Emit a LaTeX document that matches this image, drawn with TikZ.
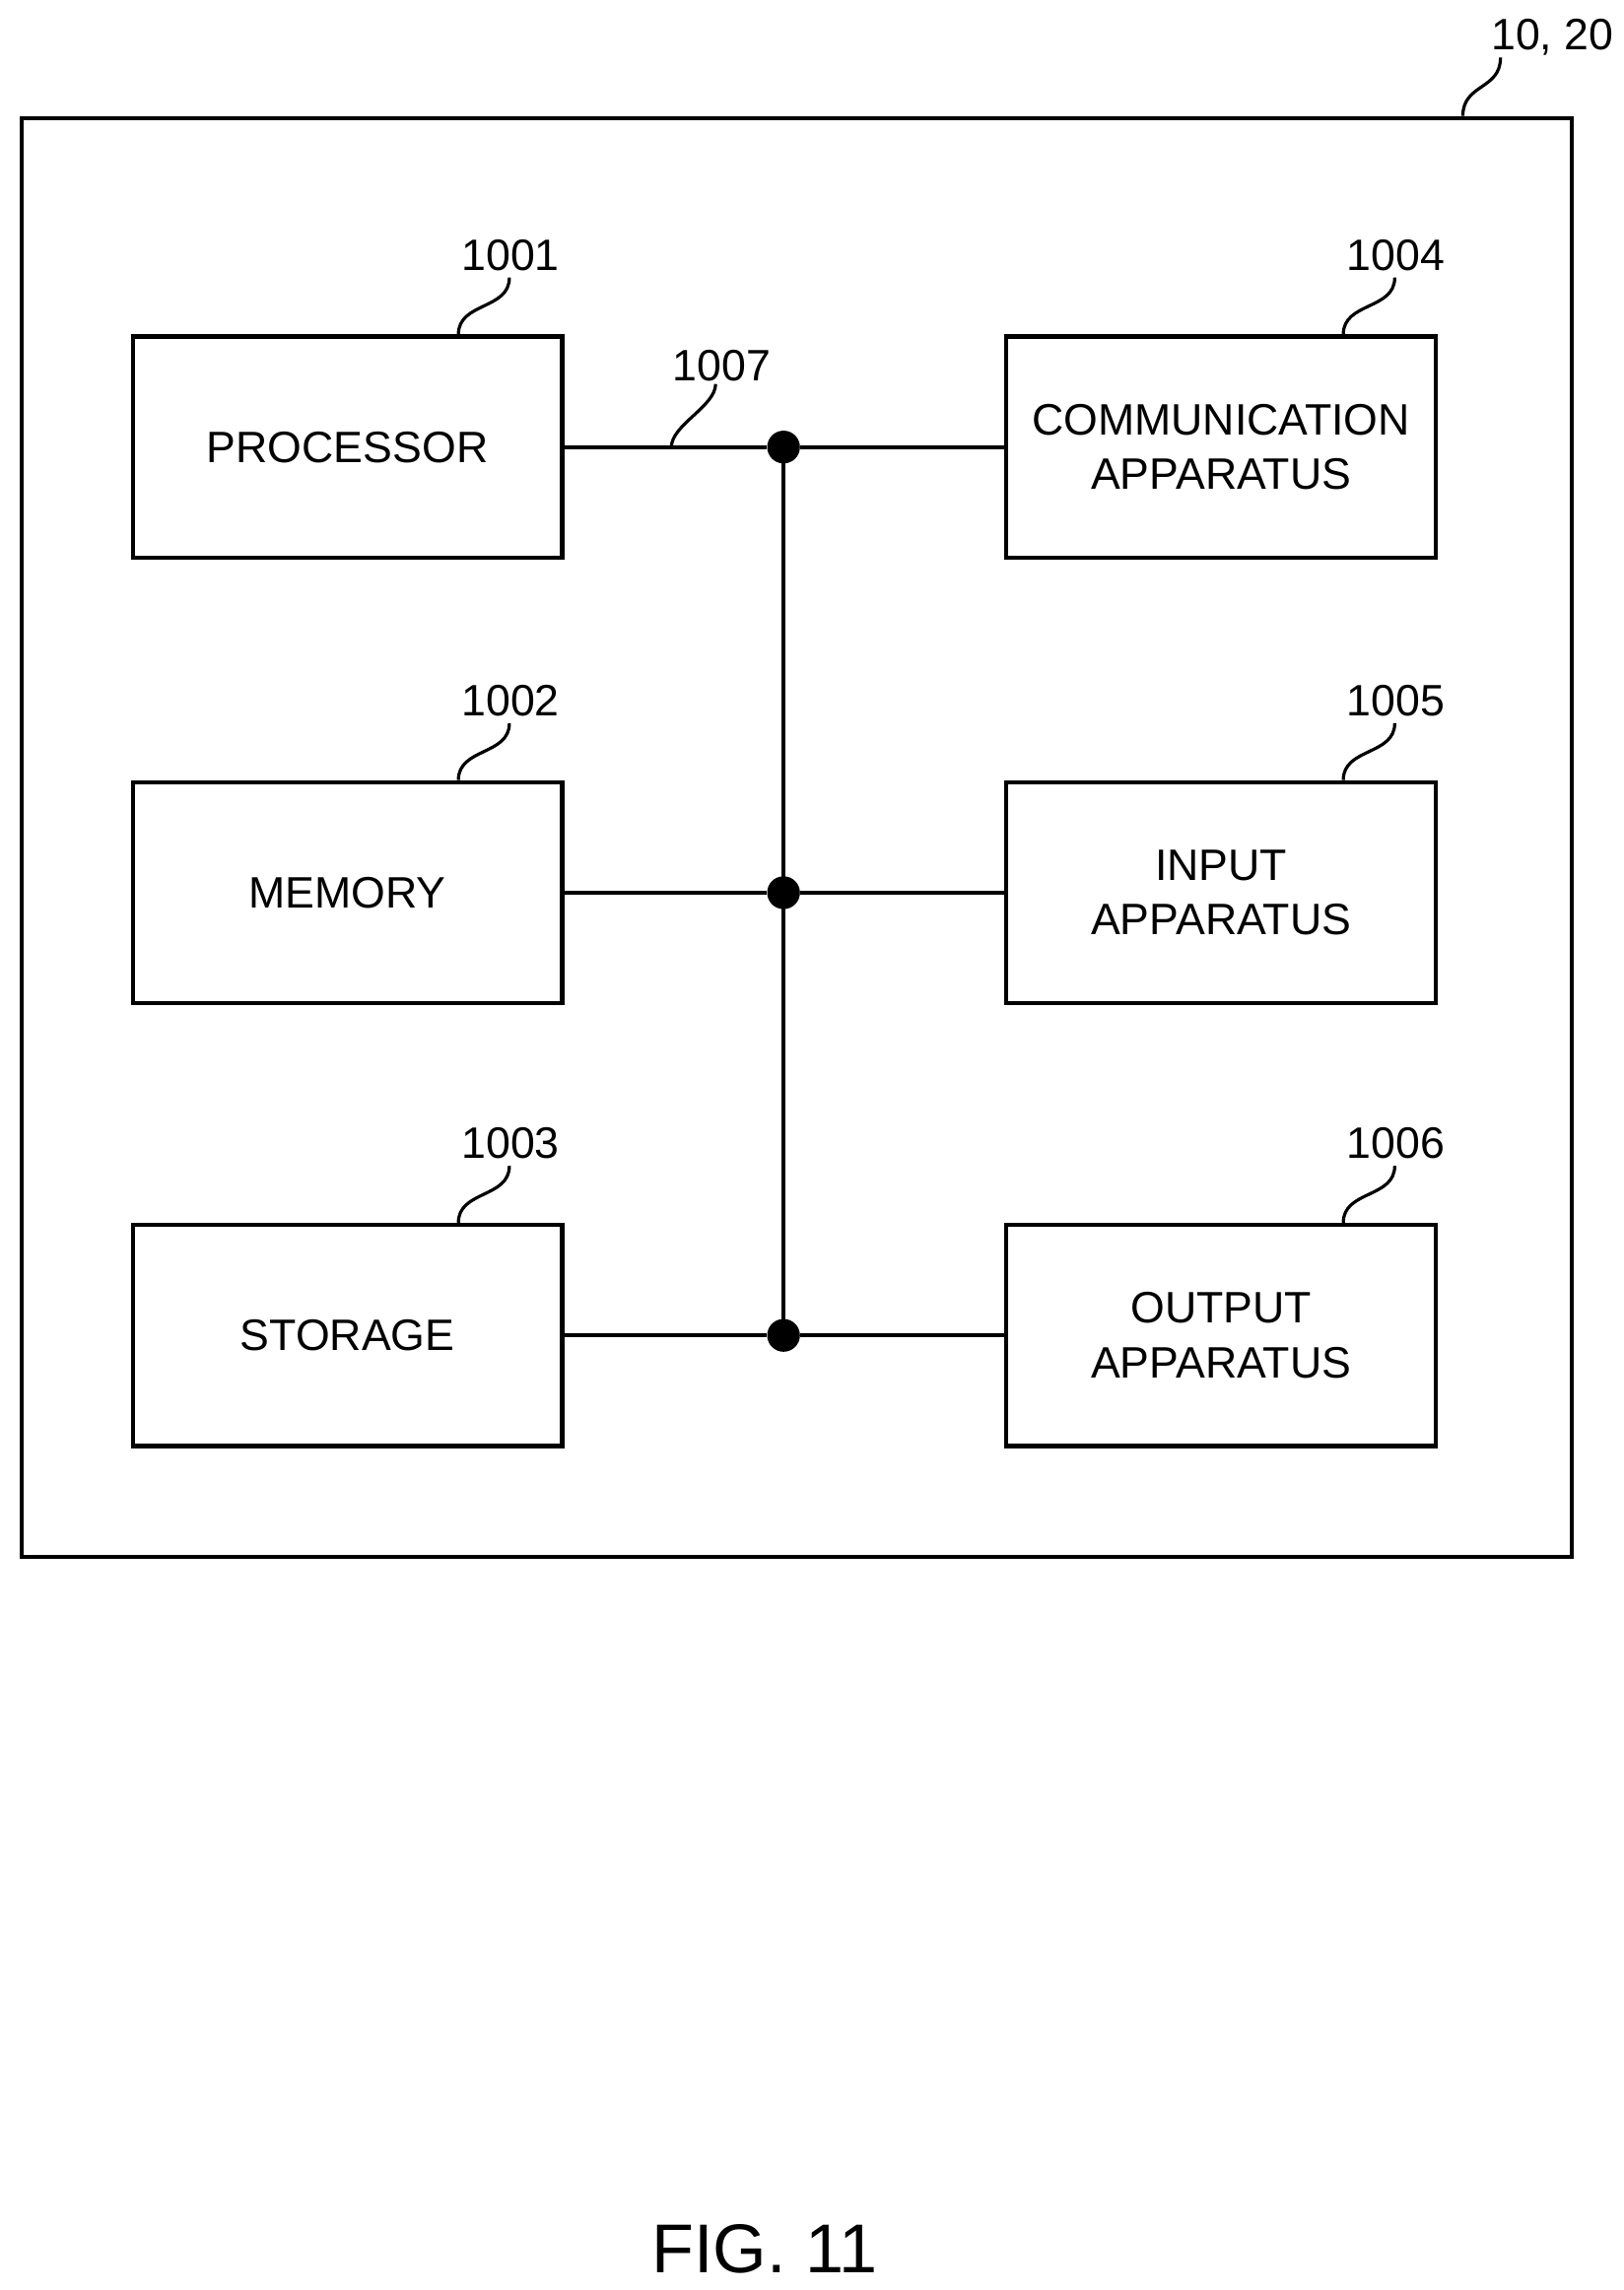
\documentclass[tikz,border=0pt]{standalone}
\usepackage{fontspec}
\setmainfont{Liberation Sans}
\usetikzlibrary{positioning}
\tikzset{
  block/.style = {draw, line width = 2pt, minimum width = 7.2cm, minimum height = 3.71cm, align = center, font = \fontsize{21}{26}\selectfont},
  refnum/.style = {font = \fontsize{21}{25}\selectfont, inner sep = 1pt},
  bus/.style = {line width = 2pt},
  junction/.style = {circle, fill, inner sep = 0pt, minimum size = 0.55cm},
  leader/.style = {line width = 1.5pt}
}
\begin{document}
\begin{tikzpicture}[x = 0.02475cm, y = -0.02475cm]
\useasboundingbox (0,0) rectangle (1100,1552);
\node[draw, line width = 2pt, minimum width = 25.99cm, minimum height = 24.13cm] (dev) at (540,567.5) {};
\node[refnum] (devnum) at (1052,25) {10, 20};
% blocks
\node[block] (proc) at (235.5,303) {PROCESSOR};
\node[block] (mem) at (235.5,605) {MEMORY};
\node[block] (stor) at (235.5,905) {STORAGE};
\node[block] (comm) at (827.5,303) {COMMUNICATION\\APPARATUS};
\node[block] (inp) at (827.5,605) {INPUT\\APPARATUS};
\node[block] (outp) at (827.5,905) {OUTPUT\\APPARATUS};
% reference numbers
\node[refnum] (n1) at (346,173) {1001};
\node[refnum] (n2) at (346,475) {1002};
\node[refnum] (n3) at (346,775) {1003};
\node[refnum] (n4) at (946,173) {1004};
\node[refnum] (n5) at (946,475) {1005};
\node[refnum] (n6) at (946,775) {1006};
\node[refnum] (n7) at (489,248) {1007};
% bus
\node[junction] (j1) at (531,303) {};
\node[junction] (j2) at (531,605) {};
\node[junction] (j3) at (531,905) {};
\coordinate (b7) at (455,303);
\draw[bus] (proc.east) -- (j1) -- (comm.west);
\draw[bus] (mem.east) -- (j2) -- (inp.west);
\draw[bus] (stor.east) -- (j3) -- (outp.west);
\draw[bus] (j1.center) -- (j3.center);
% leaders
\foreach \b/\n in {proc/n1, mem/n2, stor/n3} {
  \draw[leader] ([xshift = 1.86cm]\b.north) .. controls +(0,-22) and +(0,22) .. ([xshift = -0.02cm, yshift = -2pt]\n.south);
}
\foreach \b/\n in {comm/n4, inp/n5, outp/n6} {
  \draw[leader] ([xshift = 2.05cm]\b.north) .. controls +(0,-22) and +(0,22) .. ([xshift = -0.02cm, yshift = -2pt]\n.south);
}
\draw[leader] (b7) .. controls +(0,-15) and +(0,15) .. ([xshift = -0.1cm]n7.south);
\draw[leader] ([xshift = -1.86cm]dev.north east) .. controls +(0,-22) and +(0,22) .. ([xshift = -0.87cm]devnum.south);
\node[font = \fontsize{33}{39}\selectfont] (fig) at (518,1524) {FIG. 11};
\end{tikzpicture}
\end{document}
